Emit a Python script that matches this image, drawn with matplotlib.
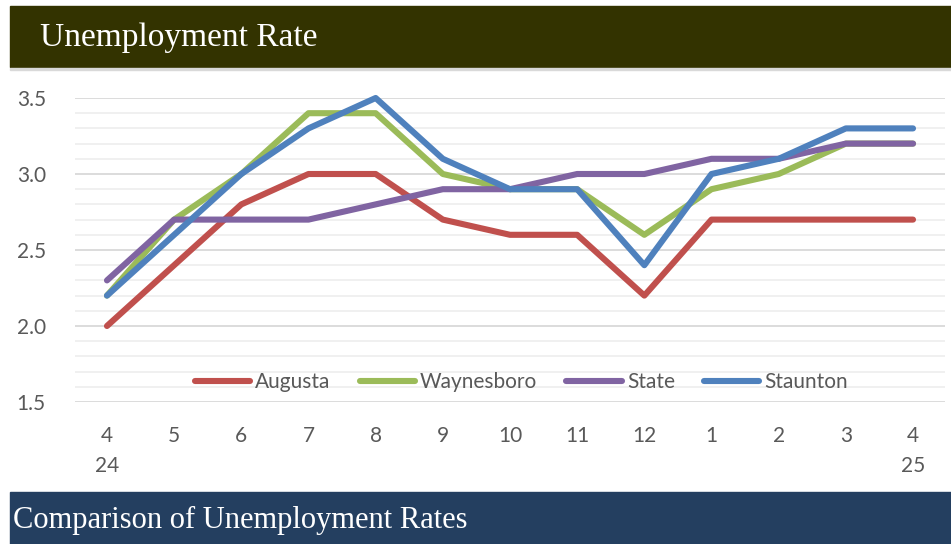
import matplotlib.pyplot as plt
from matplotlib.patches import Rectangle
from matplotlib.ticker import MultipleLocator

months = ["4\n24", "5", "6", "7", "8", "9", "10", "11", "12", "1", "2", "3", "4\n25"]
augusta = [2.0, 2.4, 2.8, 3.0, 3.0, 2.7, 2.6, 2.6, 2.2, 2.7, 2.7, 2.7, 2.7]
waynesboro = [2.2, 2.7, 3.0, 3.4, 3.4, 3.0, 2.9, 2.9, 2.6, 2.9, 3.0, 3.2, 3.2]
state = [2.3, 2.7, 2.7, 2.7, 2.8, 2.9, 2.9, 3.0, 3.0, 3.1, 3.1, 3.2, 3.2]
staunton = [2.2, 2.6, 3.0, 3.3, 3.5, 3.1, 2.9, 2.9, 2.4, 3.0, 3.1, 3.3, 3.3]

series = [("Augusta", augusta, "#C0504D"),
          ("Waynesboro", waynesboro, "#9BBB59"),
          ("State", state, "#8064A2"),
          ("Staunton", staunton, "#4F81BD")]

W, H = 951, 544
fig = plt.figure(figsize=(W / 100, H / 100), dpi=100)
fig.patch.set_facecolor("white")

# header / footer bands
fig.patches.append(Rectangle((10 / W, 1 - 67 / H), 941 / W, 61 / H,
                             transform=fig.transFigure, color="#333300", zorder=0))
fig.patches.append(Rectangle((10 / W, 1 - 70 / H), 941 / W, 2 / H,
                             transform=fig.transFigure, color="#d9d9d9", zorder=0))
fig.patches.append(Rectangle((10 / W, 0), 941 / W, 52 / H,
                             transform=fig.transFigure, color="#243F60", zorder=0))
fig.text(40 / W, 1 - 38 / H, "Unemployment Rate", color="white",
         family="Liberation Serif", fontsize=24, va="center", ha="left")
fig.text(13 / W, 1 - 520 / H, "Comparison of Unemployment Rates", color="white",
         family="Liberation Serif", fontsize=22, va="center", ha="left")

ax = fig.add_axes([75 / W, 1 - 402 / H, 870 / W, 304 / H])
x = range(len(months))
for name, vals, col in series:
    ax.plot(x, vals, color=col, lw=4.4, label=name, solid_capstyle="round",
            clip_on=False, zorder=3)

ax.set_xlim(-0.476, 12.476)
ax.set_ylim(1.5, 3.5)
ax.yaxis.set_major_locator(MultipleLocator(0.5))
ax.yaxis.set_minor_locator(MultipleLocator(0.1))
ax.yaxis.set_major_formatter(plt.FuncFormatter(lambda v, p: f"{v:.1f}"))
ax.grid(axis="y", which="major", color="#d9d9d9", lw=1.3)
ax.grid(axis="y", which="minor", color="#efefef", lw=1.3)
ax.set_axisbelow(True)
for s in ax.spines.values():
    s.set_visible(False)

ax.set_xticks(list(x))
ax.set_xticklabels(months, family="Lato", fontsize=15, color="#595959",
                   linespacing=1.65, va="top")
ax.tick_params(axis="x", length=0, pad=17)
ax.tick_params(axis="y", which="both", length=0, pad=21, labelsize=15,
               labelcolor="#595959")
for t in ax.get_yticklabels():
    t.set_family("Lato")

ax.legend(loc="center", bbox_to_anchor=(0.513, 0.066), ncol=4, frameon=False,
          prop={"family": "Lato", "size": 15}, labelcolor="#595959",
          handlelength=2.65, handletextpad=0.25, columnspacing=1.4)

fig.savefig("out.png", dpi=100)
